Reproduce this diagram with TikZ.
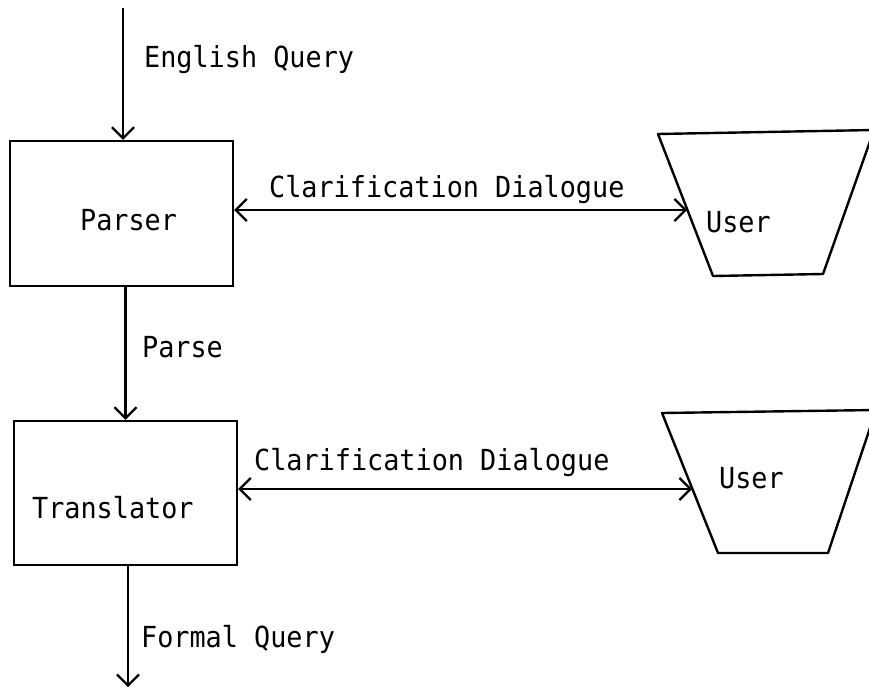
\documentclass[tikz,border=0pt]{standalone}
\usepackage{fontspec}
\newfontfamily\typefont[FakeStretch=0.925]{DejaVu Sans Mono}
\usetikzlibrary{arrows.meta}
\begin{document}
\begin{tikzpicture}[x=1pt,y=-1pt,
  line width=2.3pt,
  every node/.style={font=\typefont\fontsize{29}{34}\selectfont, inner sep=0pt},
  txt/.style={anchor=base west},
  box/.style={draw, rectangle, line width=2.4pt},
  flow/.style={-{Straight Barb[length=11pt,width=22pt,line width=2.3pt]}},
  talk/.style={{Straight Barb[length=11pt,width=22pt,line width=2.3pt]}-{Straight Barb[length=11pt,width=22pt,line width=2.3pt]}}]
\useasboundingbox (0,0) rectangle (869,687);

% processing boxes
\node[box, minimum width=223pt, minimum height=145pt] (parser) at (121.5,213.5) {};
\node[box, minimum width=223pt, minimum height=144pt] (translator) at (125.5,493) {};
\node[txt] (parserlbl) at (79,230) {Parser};
\node[txt] (translbl) at (31,518) {Translator};

% users (right edge runs off the page)
\draw[line width=2.4pt, line join=round] (658,134) -- (874,130) -- (823,274) -- (713,276) -- cycle;
\draw[line width=2.4pt, line join=round] (662,413) -- (876,410) -- (828,553) -- (718,553) -- cycle;
\node[txt] (user1) at (705,232) {User};
\node[txt] (user2) at (718,488) {User};

% connector end points
\coordinate (qin) at (123,8);
\coordinate (qout) at (128,687);
\coordinate (u1in) at (687,210);
\coordinate (u2in) at (692,489);

% data flow
\draw[flow] (qin) -- (qin |- parser.north);
\draw[flow] (translator.north |- parser.south) -- (translator.north);
\draw[flow] (qout |- translator.south) -- (qout);

% clarification dialogues
\draw[talk] (parser.east |- u1in) -- (u1in);
\draw[talk] (translator.east |- u2in) -- (u2in);

% labels
\node[txt] (lq1) at (143,68) {English Query};
\node[txt] (lp) at (141,357) {Parse};
\node[txt] (lq2) at (140,647) {Formal Query};
\node[txt] (lc1) at (268,197) {Clarification Dialogue};
\node[txt] (lc2) at (253,470) {Clarification Dialogue};
\end{tikzpicture}
\end{document}
